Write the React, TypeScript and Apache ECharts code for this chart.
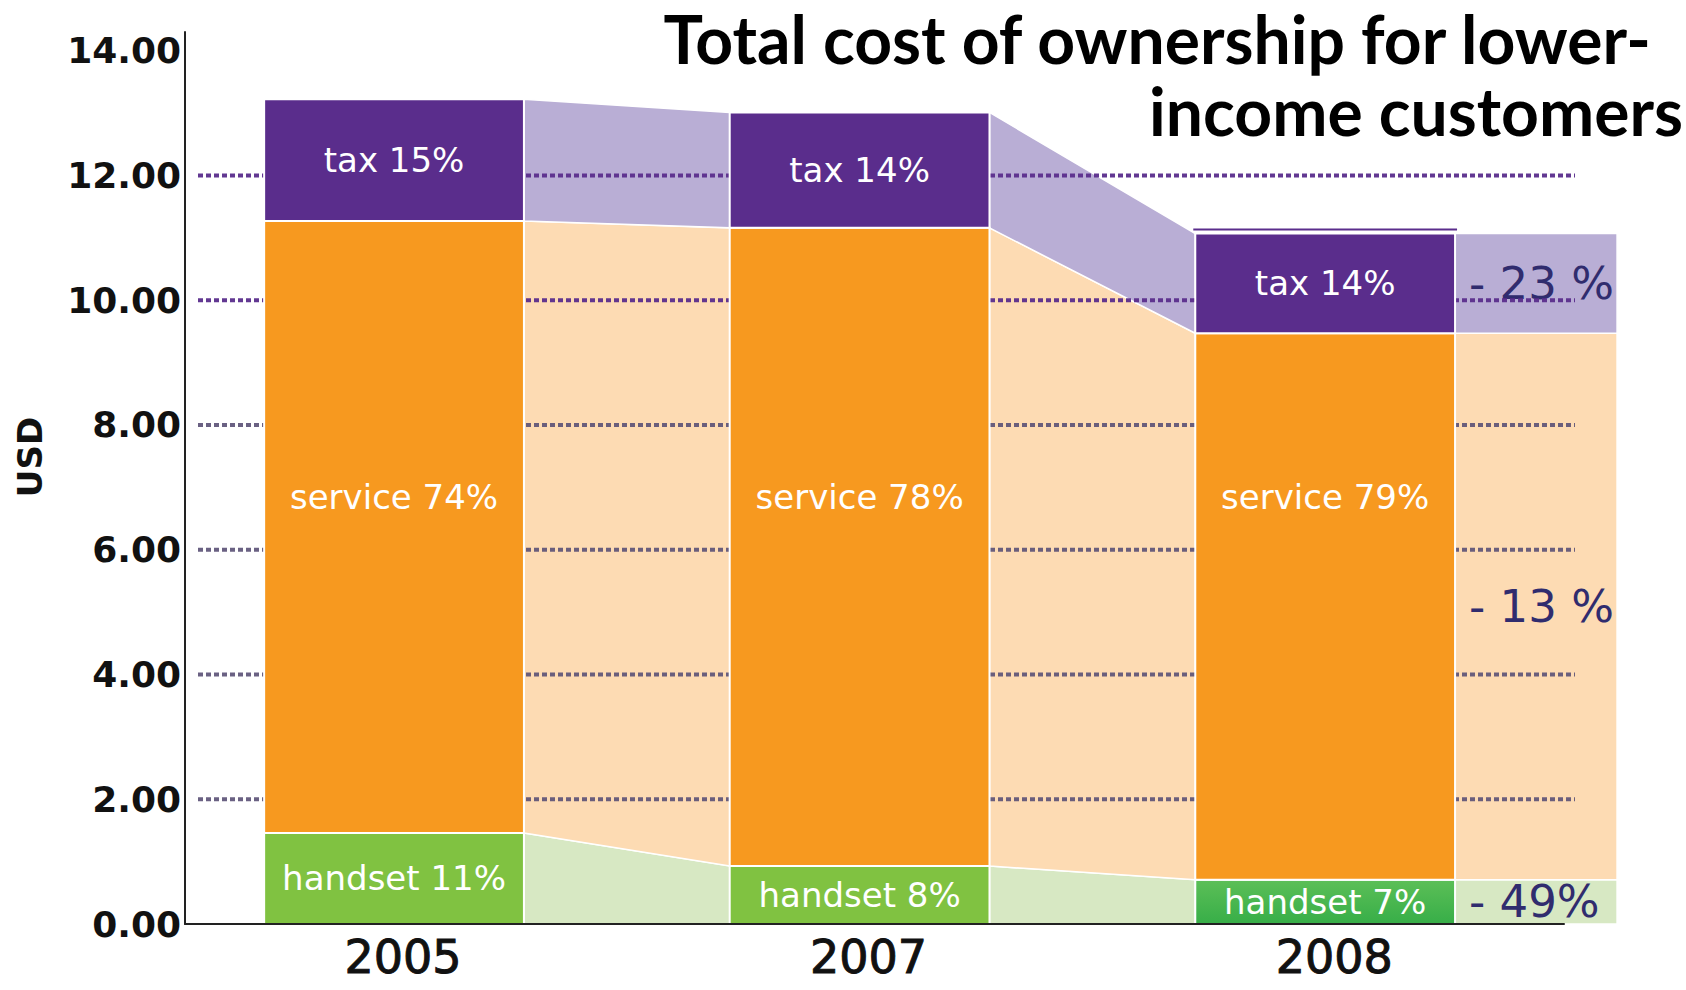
import React, { useEffect, useRef } from 'react';
import * as echarts from 'echarts';

// ---- data ----
const years = ['2005', '2007', '2008'];
const handset = [1.46, 0.93, 0.71];
const service = [9.81, 10.23, 8.76];
const tax = [1.95, 1.85, 1.6];
const handsetLabels = ['handset 11%', 'handset 8%', 'handset 7%'];
const serviceLabels = ['service 74%', 'service 78%', 'service 79%'];
const taxLabels = ['tax 15%', 'tax 14%', 'tax 14%'];
// change 2005 -> 2008, per layer (handset, service, tax)
const changeLabels = ['- 49%', '- 13 %', '- 23 %'];
const yTicks = [2, 4, 6, 8, 10, 12];
const titleLines = ['Total cost of ownership for lower-', 'income customers'];
const yName = 'USD';

// ---- layout / style constants ----
const X_MIN = -0.449;
const X_MAX = 2.513;
const Y_MAX = 14.3;
const BAR_HALF = 0.279;
const TAIL = 0.348;
const SERVICE_LABEL_LEVEL = 6.85;

const layers = [handset, service, tax];
const barColors: any[] = ['#80c241', '#f7991f', '#5a2d8c'];
const handsetLastColor = {
  type: 'linear', x: 0, y: 0, x2: 0, y2: 1,
  colorStops: [
    { offset: 0, color: '#5cbf57' },
    { offset: 1, color: '#37ae48' },
  ],
};
const bandColors = ['#d7e8c3', '#fddbb3', '#b9aed5'];
const FONT = '"DejaVu Sans", sans-serif';

const cum = (k: number, j: number) => {
  let s = 0;
  for (let m = 0; m < j; m++) s += layers[m][k];
  return s;
};

const txt = (x: number, y: number, text: string, font: string, fill: string, align = 'center', vAlign = 'middle') => ({
  type: 'text',
  x,
  y,
  style: { text, font, fill, align, verticalAlign: vAlign, textAlign: align, textVerticalAlign: vAlign },
});

function renderBands(params: any, api: any) {
  const i = params.dataIndex;
  const n = years.length;
  const children: any[] = [];
  const x0 = i + BAR_HALF;
  if (i < n - 1) {
    const x1 = i + 1 - BAR_HALF;
    for (let j = 0; j < 3; j++) {
      const pts = [
        api.coord([x0, cum(i, j)]),
        api.coord([x1, cum(i + 1, j)]),
        api.coord([x1, cum(i + 1, j + 1)]),
        api.coord([x0, cum(i, j + 1)]),
      ];
      children.push({
        type: 'polygon',
        shape: { points: pts },
        style: { fill: bandColors[j], stroke: '#ffffff', lineWidth: 1.5 },
      });
    }
  } else {
    const x1 = i + BAR_HALF + TAIL;
    for (let j = 0; j < 3; j++) {
      const tl = api.coord([x0, cum(i, j + 1)]);
      const br = api.coord([x1, cum(i, j)]);
      children.push({
        type: 'rect',
        shape: { x: tl[0], y: tl[1], width: br[0] - tl[0], height: br[1] - tl[1] },
        style: { fill: bandColors[j], stroke: '#ffffff', lineWidth: 1.5 },
      });
      const mid = api.coord([x0, (cum(i, j) + cum(i, j + 1)) / 2]);
      children.push(txt(mid[0] + 14, mid[1], changeLabels[j], `45px ${FONT}`, '#302c6e', 'left'));
    }
  }
  return { type: 'group', children };
}

function renderGridDots(params: any, api: any) {
  const v = api.value(1);
  const cs = params.coordSys;
  const y = api.coord([0, v])[1];
  const strong = v >= 10;
  return {
    type: 'line',
    shape: { x1: cs.x + 13, y1: y, x2: cs.x + cs.width + 11, y2: y },
    style: {
      stroke: strong ? '#5a2d8c' : '#5a5076',
      opacity: strong ? 0.95 : 0.9,
      lineWidth: 4,
      lineDash: [5, 3],
    },
  };
}

function renderBars(params: any, api: any) {
  const i = params.dataIndex;
  const n = years.length;
  const children: any[] = [];
  const xl = i - BAR_HALF;
  const xr = i + BAR_HALF;
  for (let j = 0; j < 3; j++) {
    const tl = api.coord([xl, cum(i, j + 1)]);
    const br = api.coord([xr, cum(i, j)]);
    const fill = j === 0 && i === n - 1 ? handsetLastColor : barColors[j];
    children.push({
      type: 'rect',
      shape: { x: tl[0], y: tl[1], width: br[0] - tl[0], height: br[1] - tl[1] },
      style: { fill, stroke: '#ffffff', lineWidth: 2 },
    });
  }
  if (i === n - 1) {
    const tl = api.coord([xl, cum(i, 3)]);
    const tr = api.coord([xr, cum(i, 3)]);
    children.push({
      type: 'line',
      shape: { x1: tl[0] - 2, y1: tl[1] - 4, x2: tr[0] + 2, y2: tr[1] - 4 },
      style: { stroke: '#5a2d8c', lineWidth: 2 },
    });
  }
  const cx = api.coord([i, 0])[0];
  const labelFont = `34px ${FONT}`;
  const yH = api.coord([i, handset[i] / 2])[1];
  const yS = api.coord([i, SERVICE_LABEL_LEVEL])[1];
  const yT = api.coord([i, cum(i, 2) + tax[i] / 2])[1];
  children.push(txt(cx, yH, handsetLabels[i], labelFont, '#ffffff'));
  children.push(txt(cx, yS, serviceLabels[i], labelFont, '#ffffff'));
  children.push(txt(cx, yT, taxLabels[i], labelFont, '#ffffff'));
  return { type: 'group', children };
}

const axisLineStyle = { color: '#222222', width: 2 };

const option: any = {
  animation: false,
  backgroundColor: '#ffffff',
  grid: { left: 185, right: 122, top: 32, bottom: 66, containLabel: false, outerBoundsMode: 'none' },
  xAxis: {
    type: 'value',
    min: X_MIN,
    max: X_MAX,
    z: 10,
    axisLine: { show: true, onZero: false, lineStyle: axisLineStyle },
    axisTick: { show: false },
    splitLine: { show: false },
    axisLabel: {
      customValues: years.map((_, i) => i),
      formatter: (v: number) => (Number.isInteger(v) && years[v] ? years[v] : ''),
      margin: 10,
      padding: [0, 0, 0, 18],
      color: '#111111',
      textBorderColor: '#111111',
      textBorderWidth: 1,
      fontFamily: FONT,
      fontWeight: 'normal',
      fontSize: 46,
    },
  },
  yAxis: {
    type: 'value',
    min: 0,
    max: Y_MAX,
    interval: 2,
    z: 10,
    axisLine: { show: true, onZero: false, lineStyle: axisLineStyle },
    axisTick: { show: false },
    splitLine: { show: false },
    axisLabel: {
      formatter: (v: number) => (Math.abs(v % 2) < 1e-9 ? v.toFixed(2) : ''),
      margin: 4,
      color: '#111111',
      fontFamily: FONT,
      fontWeight: 'bold',
      fontSize: 36,
    },
  },
  graphic: [
    { ...txt(1651, 38, titleLines[0], `bold 66px Lato, sans-serif`, '#000000', 'right'), z: 100 },
    { ...txt(1683, 110, titleLines[1], `bold 66px Lato, sans-serif`, '#000000', 'right'), z: 100 },
    { ...txt(30, 457, yName, `bold 34px ${FONT}`, '#111111'), rotation: Math.PI / 2, z: 100 },
  ],
  series: [
    {
      type: 'custom',
      name: 'bands',
      coordinateSystem: 'cartesian2d',
      clip: false,
      z: 2,
      data: years.map((_, i) => [i, 0]),
      encode: { x: 0, y: 1 },
      renderItem: renderBands,
      silent: true,
    },
    {
      type: 'custom',
      name: 'gridDots',
      coordinateSystem: 'cartesian2d',
      clip: false,
      z: 3,
      data: yTicks.map((v) => [0, v]),
      encode: { x: 0, y: 1 },
      renderItem: renderGridDots,
      silent: true,
    },
    {
      type: 'custom',
      name: 'bars',
      coordinateSystem: 'cartesian2d',
      clip: false,
      z: 4,
      data: years.map((_, i) => [i, 0]),
      encode: { x: 0, y: 1 },
      renderItem: renderBars,
      silent: true,
    },
  ],
};

export default function App() {
  const ref = useRef<HTMLDivElement>(null);
  useEffect(() => {
    const chart = echarts.init(ref.current!, null, { renderer: 'svg' });
    chart.setOption(option);
    return () => chart.dispose();
  }, []);
  return (
    <div
      ref={ref}
      style={{ position: 'absolute', left: 0, top: 0, width: 1686, height: 990 }}
    />
  );
}
